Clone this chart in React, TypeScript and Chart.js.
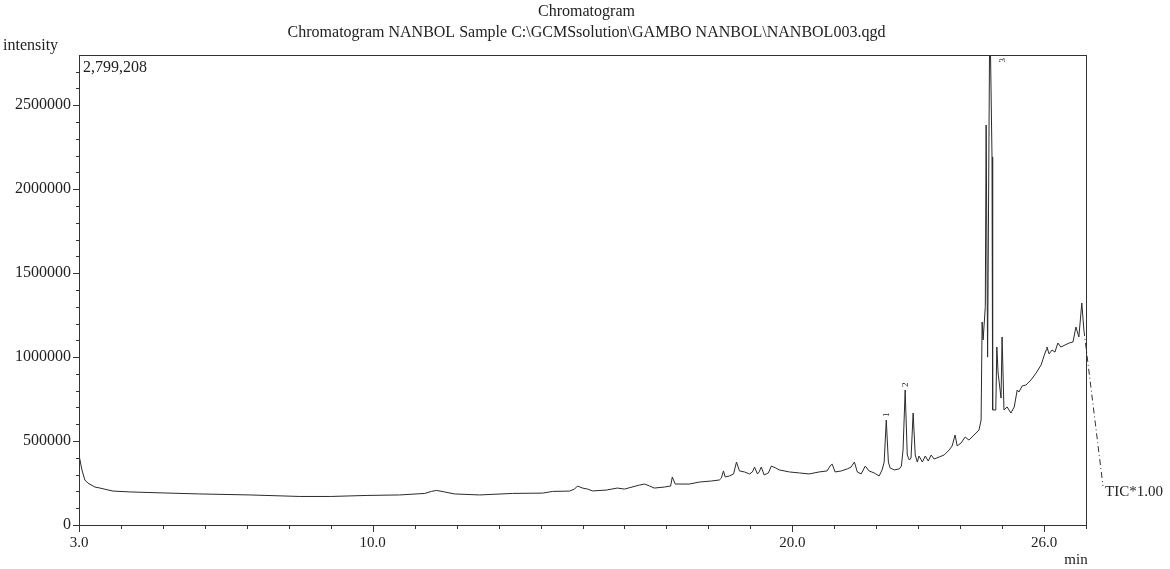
import React, { useEffect, useRef } from "react";
import { Chart, registerables } from "chart.js";

Chart.register(...registerables);

// Retention time (min)
const retentionTimes = [
  3.0, 3.07, 3.14, 3.21, 3.38, 3.5, 3.81, 4.21, 5.0, 5.88, 7.07, 8.26, 9.0, 9.86,
  10.64, 11.24, 11.4, 11.52, 11.71, 11.95, 12.55, 13.33, 14.05, 14.29, 14.69, 14.81,
  14.88, 15.0, 15.12, 15.24, 15.57, 15.83, 16.0, 16.36, 16.48, 16.6, 16.71, 16.95,
  17.1, 17.14, 17.21, 17.55, 17.79, 18.07, 18.26, 18.31, 18.36, 18.4, 18.5, 18.6,
  18.67, 18.74, 18.86, 18.98, 19.05, 19.1, 19.17, 19.21, 19.26, 19.33, 19.43, 19.5,
  19.6, 19.69, 19.93, 20.17, 20.4, 20.64, 20.83, 20.9, 20.95, 21.02, 21.17, 21.31,
  21.4, 21.48, 21.55, 21.64, 21.74, 21.83, 21.95, 22.07, 22.14, 22.19, 22.24, 22.29,
  22.33, 22.43, 22.55, 22.6, 22.64, 22.69, 22.74, 22.79, 22.83, 22.88, 22.93, 22.98,
  23.02, 23.1, 23.17, 23.24, 23.31, 23.38, 23.5, 23.62, 23.74, 23.81, 23.88, 23.93,
  24.02, 24.12, 24.21, 24.33, 24.45, 24.5, 24.524, 24.548, 24.6, 24.62, 24.655,
  24.7, 24.725, 24.76, 24.775, 24.85, 24.875, 24.905, 24.975, 25.0, 25.045, 25.12,
  25.21, 25.29, 25.36, 25.4, 25.48, 25.57, 25.69, 25.81, 25.93, 26.0, 26.05, 26.07,
  26.12, 26.19, 26.26, 26.33, 26.4, 26.5, 26.6, 26.69, 26.76, 26.83, 26.9, 26.95,
];

// TIC intensity
const intensities = [
  417000, 328000, 268000, 250000, 226000, 220000, 202000, 197000, 191000, 185000,
  179000, 170000, 170000, 176000, 179000, 188000, 200000, 206000, 197000, 185000,
  179000, 188000, 190000, 200000, 202000, 214000, 232000, 220000, 214000, 203000,
  208000, 220000, 214000, 238000, 244000, 232000, 220000, 226000, 232000, 286000,
  244000, 244000, 256000, 262000, 268000, 280000, 322000, 286000, 292000, 304000,
  375000, 322000, 316000, 304000, 316000, 345000, 304000, 316000, 345000, 298000,
  310000, 351000, 340000, 328000, 316000, 310000, 304000, 316000, 322000, 351000,
  363000, 316000, 322000, 334000, 345000, 375000, 316000, 304000, 351000, 322000,
  310000, 292000, 328000, 375000, 625000, 375000, 340000, 328000, 334000, 351000,
  447000, 804000, 417000, 387000, 399000, 667000, 417000, 375000, 411000, 375000,
  411000, 381000, 417000, 393000, 405000, 417000, 447000, 471000, 536000, 471000,
  488000, 524000, 506000, 536000, 566000, 625000, 1209000, 1102000, 1300000, 2382000,
  1000000, 2799208, 2799208, 2192000, 685000, 685000, 1060000, 905000, 756000,
  1120000, 685000, 703000, 667000, 703000, 804000, 792000, 828000, 834000, 864000,
  905000, 953000, 1007000, 1042000, 1060000, 1019000, 1042000, 1030000, 1084000,
  1060000, 1072000, 1084000, 1090000, 1179000, 1120000, 1322000, 1161000,
];

const maxIntensity = 2799208;
const xRange = [3, 27];
const xLabelledTicks = [3, 10, 20, 26];
const yMinorStep = 100000;
const yLabelStep = 500000;
const peakTimes = [22.24, 22.69, 24.725];
const peakNumbers = ["1", "2", "3"];
const titleLines = [
  "Chromatogram",
  "Chromatogram NANBOL Sample C:\\GCMSsolution\\GAMBO NANBOL\\NANBOL003.qgd",
];
const yAxisTitle = "intensity";
const xAxisUnit = "min";
const traceLabel = "TIC*1.00";

const FONT = "'Liberation Serif', 'DejaVu Serif', serif";
const INK = "#222";

const xTickValues: number[] = [];
for (let t = xRange[0]; t <= xRange[1]; t += 1) xTickValues.push(t);
const yTickValues: number[] = [];
for (let v = 0; v <= maxIntensity; v += yMinorStep) yTickValues.push(v);

const decorPlugin = {
  id: "decor",
  afterDraw(chart: any) {
    const { ctx, chartArea } = chart;
    const xs = chart.scales.x;
    const ys = chart.scales.y;
    const { left, right, top, bottom } = chartArea;
    ctx.save();
    ctx.strokeStyle = "#333";
    ctx.lineWidth = 1;
    // frame
    ctx.strokeRect(left + 0.5, top + 0.5, right - left, bottom - top);
    // x tick marks
    ctx.beginPath();
    xs.ticks.forEach((t: any) => {
      const px = Math.round(xs.getPixelForValue(t.value)) + 0.5;
      const len = xLabelledTicks.includes(t.value) ? 7 : 4;
      ctx.moveTo(px, bottom);
      ctx.lineTo(px, bottom + len);
    });
    // y tick marks
    ys.ticks.forEach((t: any) => {
      const py = Math.round(ys.getPixelForValue(t.value)) + 0.5;
      const major = Math.round(t.value) % yLabelStep === 0;
      ctx.moveTo(left - (major ? 6 : 3), py);
      ctx.lineTo(left, py);
    });
    ctx.stroke();

    // texts
    ctx.fillStyle = INK;
    ctx.textBaseline = "middle";
    ctx.font = `16px ${FONT}`;
    ctx.textAlign = "center";
    const cx = (left + right) / 2 + 4;
    ctx.fillText(titleLines[0], cx, 12);
    ctx.fillText(titleLines[1], cx, 33);
    ctx.textAlign = "left";
    ctx.fillText(yAxisTitle, 3, 46);
    ctx.fillText(maxIntensity.toLocaleString("en-US"), left + 4, top + 13);
    ctx.font = `15px ${FONT}`;
    ctx.textAlign = "center";
    ctx.fillText(xAxisUnit, 1076, 560);

    // trace label with dash-dot leader
    const n = retentionTimes.length - 1;
    const lx = xs.getPixelForValue(retentionTimes[n]);
    const ly = ys.getPixelForValue(intensities[n]);
    ctx.setLineDash([6, 3, 1, 3]);
    ctx.beginPath();
    ctx.moveTo(lx, ly);
    ctx.lineTo(1103, 486);
    ctx.stroke();
    ctx.setLineDash([]);
    ctx.textAlign = "left";
    ctx.fillText(traceLabel, 1105, 492);

    // peak numbers
    ctx.font = `9px ${FONT}`;
    peakTimes.forEach((pt, i) => {
      let idx = 0;
      let best = Infinity;
      retentionTimes.forEach((t, j) => {
        const d = Math.abs(t - pt);
        if (d < best) { best = d; idx = j; }
      });
      const px = xs.getPixelForValue(retentionTimes[idx]);
      const v = intensities[idx];
      ctx.save();
      if (v >= maxIntensity) {
        ctx.translate(px + 12, top + 3);
        ctx.rotate(-Math.PI / 2);
        ctx.textAlign = "right";
      } else {
        ctx.translate(px, ys.getPixelForValue(v) - 3);
        ctx.rotate(-Math.PI / 2);
        ctx.textAlign = "left";
      }
      ctx.textBaseline = "middle";
      ctx.fillText(peakNumbers[i], 0, 0);
      ctx.restore();
    });
    ctx.restore();
  },
};

export default function App() {
  const canvasRef = useRef<HTMLCanvasElement | null>(null);

  useEffect(() => {
    if (!canvasRef.current) return;
    const points = retentionTimes.map((t, i) => ({ x: t, y: intensities[i] }));
    const chart = new Chart(canvasRef.current, {
      type: "line",
      data: {
        datasets: [
          {
            label: traceLabel,
            data: points,
            borderColor: "#2a2a2a",
            borderWidth: 1,
            pointRadius: 0,
            tension: 0,
            fill: false,
          },
        ],
      },
      options: {
        animation: false,
        responsive: false,
        devicePixelRatio: 1,
        layout: { padding: { left: 0, right: 84, top: 55, bottom: 0 } },
        plugins: {
          legend: { display: false },
          tooltip: { enabled: false },
          title: { display: false },
        },
        scales: {
          x: {
            type: "linear",
            min: xRange[0],
            max: xRange[1],
            afterFit: (s: any) => { s.height = 44; },
            afterBuildTicks: (s: any) => { s.ticks = xTickValues.map((v) => ({ value: v })); },
            grid: { display: false, drawTicks: false },
            border: { display: false },
            ticks: {
              autoSkip: false,
              maxRotation: 0,
              padding: 9,
              color: INK,
              font: { family: FONT, size: 15 },
              callback: (v: any) => (xLabelledTicks.includes(v) ? Number(v).toFixed(1) : ""),
            },
          },
          y: {
            min: 0,
            max: maxIntensity,
            afterFit: (s: any) => { s.width = 79; },
            afterBuildTicks: (s: any) => { s.ticks = yTickValues.map((v) => ({ value: v })); },
            grid: { display: false, drawTicks: false },
            border: { display: false },
            ticks: {
              autoSkip: false,
              padding: 8,
              color: INK,
              font: { family: FONT, size: 16 },
              callback: (v: any) => (Math.round(v) % yLabelStep === 0 ? String(Math.round(v)) : ""),
            },
          },
        },
      },
      plugins: [decorPlugin],
    } as any);
    return () => chart.destroy();
  }, []);

  return (
    <div style={{ position: "absolute", left: 0, top: 0, width: 1170, height: 569, background: "#fff" }}>
      <canvas ref={canvasRef} width={1170} height={569} style={{ display: "block" }} />
    </div>
  );
}
